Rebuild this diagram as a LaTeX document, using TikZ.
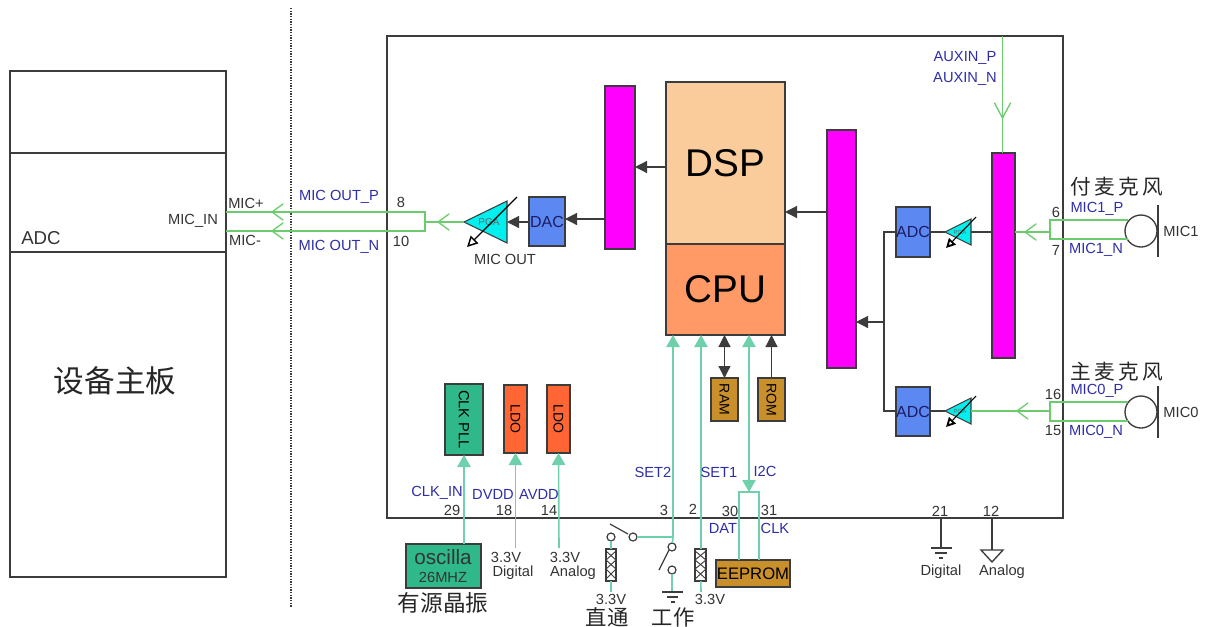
\documentclass[tikz,border=0pt]{standalone}
\usepackage{fontspec}
\setmainfont{Liberation Sans}
\newfontfamily\cjk{Noto Sans CJK SC}
\usetikzlibrary{arrows.meta,calc}
\definecolor{lineblk}{HTML}{3C3C3C}
\definecolor{labblue}{HTML}{2E2EA8}
\definecolor{gmic}{HTML}{6CCB6C}
\definecolor{gteal}{HTML}{6FD0AC}
\definecolor{peach}{HTML}{FACB9B}
\definecolor{cpuorg}{HTML}{FF9A66}
\definecolor{mag}{HTML}{FF00FF}
\definecolor{blu}{HTML}{5C88F2}
\definecolor{cyanp}{HTML}{00F0F0}
\definecolor{gold}{HTML}{C98F2B}
\definecolor{ldoc}{HTML}{FF6633}
\definecolor{clkg}{HTML}{2FB98B}
\newcommand\fpx[1]{\fontsize{#1}{#1}\selectfont}
% \bx{name}{x0}{y0}{x1}{y1}{style}{text}
\newcommand\bx[7]{%
  \pgfmathsetmacro\bw{(#4-#2)*0.75}%
  \pgfmathsetmacro\bh{(#5-#3)*0.75}%
  \node[blk,minimum width=\bw pt,minimum height=\bh pt,#6] (#1) at ({(#2+#4)/2},{(#3+#5)/2}) {#7};}
\newcommand\lab[4][]{\node[lbl,#1] (#2) at (#3) {#4};}
\tikzset{
  blk/.style={draw=lineblk,line width=.9pt,inner sep=0pt,outer sep=0pt,rectangle},
  lbl/.style={inner sep=0pt,outer sep=0pt,text=black!80,font=\fpx{11}},
  bl/.style={lbl,text=labblue},
  conv/.style={fill=blu,font=\fpx{12},text=labblue!60!black},
  conn/.style={draw=lineblk,line width=.9pt},
  arrb/.style={conn,-{Triangle[length=9pt,width=9pt]}},
  gm/.style={draw=gmic,line width=1pt},
  gt/.style={draw=gteal,line width=1.2pt},
  arrt/.style={gt,-{Triangle[length=9pt,width=10pt]}},
  sw/.style={circle,draw=lineblk,line width=.9pt,fill=white,inner sep=0pt,outer sep=0pt,minimum size=6pt},
  res/.style={blk,fill=white,line width=.9pt},
  chl/.pic={\draw[gm,line cap=round,line join=round] (11,-8) -- (0,0) -- (11,8);},
  chd/.pic={\draw[gm,line cap=round,line join=round] (-8,-15) -- (0,0) -- (8,-15);},
  tr/.style={draw=lineblk,line width=.8pt,fill=cyanp},
  gain/.style={draw=black,line width=.9pt,-{Triangle[open,length=8pt,width=8pt,line width=1.1pt]}},
  gains/.style={draw=black,line width=.8pt,-{Triangle[open,length=7pt,width=7pt,line width=1.4pt]}},
}
\begin{document}
\begin{tikzpicture}[x=0.75pt,y=-0.75pt]
\useasboundingbox (0,0) rectangle (1211,626);
% left board
\bx{board}{10}{71}{226}{577}{}{}
\coordinate (l1) at (0,153); \coordinate (l2) at (0,252);
\draw[conn] (board.west |- l1) -- (board.east |- l1);
\draw[conn] (board.west |- l2) -- (board.east |- l2);
\coordinate (dtop) at (291,8); \coordinate (dbot) at (291,608);
\draw[lineblk,line width=1pt,densely dotted] (dtop) -- (dbot);
% main box
\bx{main}{387}{36}{1063}{518}{}{}
% core
\bx{dsp}{666}{82}{785}{244}{fill=peach,font=\fpx{29}}{DSP}
\bx{cpu}{666}{244}{785}{335}{fill=cpuorg,font=\fpx{29}}{CPU}
\bx{barA}{605}{86}{635}{249}{fill=mag}{}
\bx{barB}{827}{130}{856}{368}{fill=mag}{}
\bx{barC}{992}{153}{1015}{358}{fill=mag}{}
\bx{dac}{529}{197}{565}{246}{conv}{DAC}
\bx{adcA}{896}{207}{930}{257}{conv}{ADC}
\bx{adcB}{896}{387}{930}{436}{conv}{ADC}
% PGA out
\draw[tr] (464,222) -- (507,201) -- (507,243) -- cycle;
\coordinate (pgaOa) at (464,222); \coordinate (pgaOb) at (507,222);
\node[lbl,font=\fpx{7.5},text=black!60] (pgaOt) at (489,222) {PGA};
\coordinate (gOa) at (517,197); \coordinate (gOb) at (467,247);
\draw[gain] (gOa) -- (gOb);
% PGA small
\draw[tr] (945,232) -- (971,219) -- (971,245) -- cycle;
\coordinate (pgaAa) at (945,232); \coordinate (pgaAb) at (971,232);
\node[lbl,font=\fpx{4.5},text=black!60] (pgaAt) at (960,232) {PGA};
\coordinate (gAa) at (976,217); \coordinate (gAb) at (946,248);
\draw[gains] (gAa) -- (gAb);
\draw[tr] (945,411) -- (971,398) -- (971,424) -- cycle;
\coordinate (pgaBa) at (945,411); \coordinate (pgaBb) at (971,411);
\node[lbl,font=\fpx{4.5},text=black!60] (pgaBt) at (960,411) {PGA};
\coordinate (gBa) at (976,396); \coordinate (gBb) at (946,427);
\draw[gains] (gBa) -- (gBb);
% black connectors
\coordinate (yA) at (0,167); \coordinate (yB) at (0,219); \coordinate (yC) at (0,212); \coordinate (yD) at (0,322);
\coordinate (xv) at (884,0); \coordinate (ypA) at (0,232); \coordinate (ypB) at (0,411);
\draw[arrb] (dsp.west |- yA) -- (barA.east |- yA);
\draw[arrb] (barA.west |- yB) -- (dac.east |- yB);
\draw[arrb] (dac.west |- pgaOb) -- (pgaOb);
\draw[arrb] (barB.west |- yC) -- (dsp.east |- yC);
\draw[arrb] (xv |- yD) -- (barB.east |- yD);
\draw[conn] (adcA.west |- ypA) -- (xv |- ypA) -- (xv |- ypB) -- (adcB.west |- ypB);
\draw[conn] (adcA.east |- ypA) -- (pgaAa);
\draw[conn] (pgaAb) -- (barC.west |- ypA);
\draw[conn] (adcB.east |- ypB) -- (pgaBa);
% RAM ROM
\bx{ram}{711}{378}{738}{421}{fill=gold}{\rotatebox{-90}{\fpx{10.5}RAM}}
\bx{rom}{758}{378}{785}{421}{fill=gold}{\rotatebox{-90}{\fpx{10.5}ROM}}
\draw[conn,{Triangle[length=9pt,width=9pt]}-{Triangle[length=9pt,width=9pt]}] (ram.north) -- (ram.north |- cpu.south);
\draw[arrb] (rom.north) -- (rom.north |- cpu.south);
% PLL, LDO
\bx{pll}{445}{384}{483}{455}{fill=clkg}{\rotatebox{-90}{\fpx{11}CLK PLL}}
\bx{ldoA}{504}{385}{527}{453}{fill=ldoc}{\rotatebox{-90}{\fpx{10.5}LDO}}
\bx{ldoB}{547}{385}{570}{453}{fill=ldoc}{\rotatebox{-90}{\fpx{10.5}LDO}}
\bx{osc}{406}{544}{481}{588}{fill=clkg}{}
\node[lbl,font=\fpx{15.5}] (osct) at (443,557) {oscilla};
\node[lbl,font=\fpx{11}] (oscf) at (443,577) {26MHZ};
\coordinate (vA) at (515.5,548); \coordinate (vB) at (559,548);
\draw[arrt] (pll.south |- osc.north) -- (pll.south);
\draw[arrt] (vA) -- (ldoA.south);
\draw[arrt] (vB) -- (ldoB.south);
% EEPROM
\bx{eep}{716}{560}{790}{587}{fill=gold,font=\fpx{12.5}}{EEPROM}
\coordinate (xI) at (749,0); \coordinate (brL) at (739,492); \coordinate (brR) at (759,492); \coordinate (brM) at (749,492);
\draw[gt] (brL |- eep.north) -- (brL) -- (brR) -- (brR |- eep.north);
\draw[gt,{Triangle[length=9pt,width=10pt]}-{Triangle[length=9pt,width=10pt]}] (xI |- cpu.south) -- (brM);
% SET2 & switches
\coordinate (xS2) at (673,0); \coordinate (xS1) at (701,0); \coordinate (jn) at (673,537);
\node[sw] (swA) at (633,537) {};
\node[sw] (swB) at (611,537) {};
\node[sw] (swC) at (672,547) {};
\node[sw] (swD) at (672,570) {};
\bx{resA}{606}{549}{616}{581}{res}{}
\bx{resB}{695}{549}{706}{581}{res}{}
\coordinate (tA) at (611,592); \coordinate (tB) at (701,592); \coordinate (tC) at (672,592);
\draw[gt] (jn) -- (swA);
\draw[gt,{Triangle[length=9pt,width=10pt]}-] (xS2 |- cpu.south) -- (jn);
\draw[gt] (jn) -- (swC);
\draw[gt] (swB) -- (resA);
\draw[gt] (resA) -- (tA);
\draw[gt] (swD) -- (tC);
\draw[gt,{Triangle[length=9pt,width=10pt]}-] (xS1 |- cpu.south) -- (resB.north -| xS1);
\draw[gt] (resB) -- (tB);
\coordinate (lvA) at (610,524); \coordinate (lvB) at (628,534); \coordinate (lvC) at (659,570); \coordinate (lvD) at (669,550);
\draw[lineblk,line width=.9pt] (lvA) -- (lvB);
\draw[lineblk,line width=.9pt] (lvC) -- (lvD);
% zigzags in resistors
\draw[lineblk,line width=.7pt] (606,551) -- (616,560) -- (606,569) -- (616,579);
\draw[lineblk,line width=.7pt] (616,551) -- (606,560) -- (616,569) -- (606,579);
\draw[lineblk,line width=.7pt] (695,551) -- (706,560) -- (695,569) -- (706,579);
\draw[lineblk,line width=.7pt] (706,551) -- (695,560) -- (706,569) -- (695,579);
% ground under switch
\draw[lineblk,line width=.9pt] (662,592) -- (683,592) (667,597) -- (678,597) (671,602) -- (675,602);
% Grounds
\coordinate (gd) at (941,548); \coordinate (ga) at (992,550);
\draw[conn] (gd |- main.south) -- (gd);
\draw[conn] (ga |- main.south) -- (ga);
\draw[lineblk,line width=1pt] (931,548) -- (952,548) (935,553) -- (947,553) (939,558) -- (943,558);
\draw[lineblk,line width=1pt,line join=miter] (981,550) -- (1003,550) -- (992,562) -- cycle;
% MIC OUT green
\coordinate (ya) at (0,212); \coordinate (yb) at (0,231); \coordinate (xr) at (425,0);
\draw[gm] (board.east |- ya) -- (xr |- ya) -- (xr |- yb) -- (board.east |- yb);
\draw[gm] (xr |- pgaOa) -- (pgaOa);
\pic at (272,212) {chl}; \pic at (272,231) {chl}; \pic at (438,222) {chl};
% AUX
\coordinate (xa) at (1002.5,0);
\draw[gm] (xa |- main.north) -- (xa |- barC.north);
\pic at (1002.5,118) {chd};
% MIC1
\node[circle,draw=lineblk,line width=1pt,minimum size=24pt,inner sep=0pt,outer sep=0pt,fill=white] (micA) at (1141,231) {};
\node[circle,draw=lineblk,line width=1pt,minimum size=24pt,inner sep=0pt,outer sep=0pt,fill=white] (micB) at (1141,412) {};
\coordinate (xb) at (1050,0);
\coordinate (mA1) at (1128,220); \coordinate (mA2) at (1128,239);
\coordinate (mB1) at (1128,402); \coordinate (mB2) at (1128,421);
\draw[gm] (mA1) -- (xb |- mA1) -- (xb |- mA2) -- (mA2);
\draw[gm] (mB1) -- (xb |- mB1) -- (xb |- mB2) -- (mB2);
\draw[gm] (xb |- ypA) -- (barC.east |- ypA);
\draw[gm] (xb |- ypB) -- (pgaBb);
\pic at (1025,232) {chl}; \pic at (1017,411) {chl};
\coordinate (brA1) at (1158,205); \coordinate (brA2) at (1158,257);
\coordinate (brB1) at (1158,386); \coordinate (brB2) at (1158,438);
\draw[conn] (brA1) -- (brA2);
\draw[conn] (brB1) -- (brB2);
% text
\node[lbl,font=\cjk\fpx{23},text=black!85] (tmb) at (115,381) {设备主板};
\node[lbl,font=\fpx{14}] (tadc) at (41,238) {ADC};
\lab{tmin}{193,221}{MIC\_IN}
\lab{tmp}{246,203}{MIC+}
\lab{tmn}{245,240}{MIC-}
\node[bl] (tp) at (339,197) {MIC OUT\_P};
\node[bl] (tn) at (339,247) {MIC OUT\_N};
\lab{n8}{401,202}{8}
\lab{n10}{401,241}{10}
\lab{tmo}{505,259}{MIC OUT}
\node[bl] (auxp) at (965,58) {AUXIN\_P};
\node[bl] (auxn) at (965,79) {AUXIN\_N};
\node[lbl,font=\cjk\fpx{15.5},text=black!85] (fu) at (1117,187) {付\,麦\,克\,风};
\node[lbl,font=\cjk\fpx{15.5},text=black!85] (zhu) at (1117,372) {主\,麦\,克\,风};
\node[bl] (m1p) at (1097,209) {MIC1\_P};
\node[bl] (m1n) at (1096,250) {MIC1\_N};
\node[bl] (m0p) at (1097,391) {MIC0\_P};
\node[bl] (m0n) at (1096,432) {MIC0\_N};
\lab{n6}{1056,212}{6}
\lab{n7}{1056,250}{7}
\lab{n16}{1053,394}{16}
\lab{n15}{1053,431}{15}
\lab{tm1}{1181,231}{MIC1}
\lab{tm0}{1181,412}{MIC0}
\lab{n21}{940,511}{21}
\lab{n12}{991,511}{12}
\lab{tdg}{941,572}{Digital}
\lab{tan}{1002,572}{Analog}
\node[bl] (ck) at (437,493) {CLK\_IN};
\node[bl] (dv) at (493,494) {DVDD};
\node[bl] (av) at (539,494) {AVDD};
\lab{n29}{452,510}{29}
\lab{n18}{504,510}{18}
\lab{n14}{549,510}{14}
\lab{n3}{664,510}{3}
\lab{n2}{693,509}{2}
\lab{n30}{730,511}{30}
\lab{n31}{769,510}{31}
\node[bl] (dat) at (723,528) {DAT};
\node[bl] (clk) at (775,528) {CLK};
\node[bl] (s2) at (653,472) {SET2};
\node[bl] (s1) at (719,472) {SET1};
\node[bl] (i2c) at (765,471) {I2C};
\lab{v1}{506,557}{3.3V}
\lab{v1b}{513,573}{Digital}
\lab{v2}{565,557}{3.3V}
\lab{v2b}{573,573}{Analog}
\lab{v3}{611,599}{3.3V}
\lab{v4}{710,599}{3.3V}
\node[lbl,font=\cjk\fpx{17},text=black!85] (yy) at (443,603) {有源晶振};
\node[lbl,font=\cjk\fpx{16},text=black!85] (zt) at (607,617) {直通};
\node[lbl,font=\cjk\fpx{16},text=black!85] (gz) at (673,617) {工作};
\end{tikzpicture}
\end{document}
